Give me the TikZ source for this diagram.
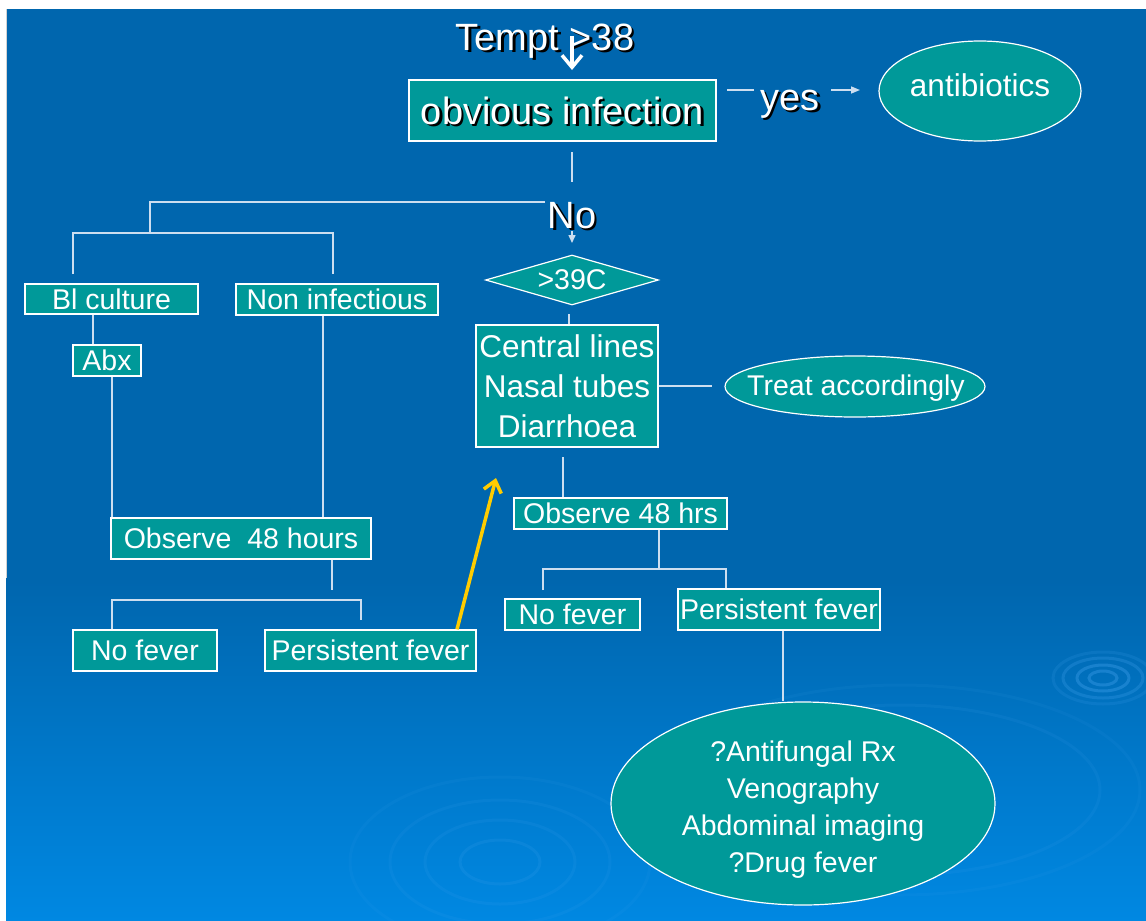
\documentclass[tikz,border=0pt]{standalone}
\usepackage{fontspec}
\setmainfont{Liberation Sans}
\usetikzlibrary{arrows.meta,shapes.geometric,calc}
\definecolor{bgtop}{RGB}{0,102,174}
\definecolor{bgbot}{RGB}{0,136,226}
\definecolor{tealbox}{RGB}{0,153,153}
\definecolor{lnc}{RGB}{205,222,240}
\definecolor{gold}{RGB}{255,204,0}
\definecolor{ripple}{RGB}{70,165,240}
\newcommand\shtext[1]{\rlap{\kern2.5pt\smash{\raisebox{-2.5pt}{\color{black}#1}}}#1}
\begin{document}
\begin{tikzpicture}[x=1pt,y=-1pt,
  box/.style={rectangle, draw=white, line width=1.3pt, fill=tealbox, text=white, inner sep=0pt},
  oval/.style={ellipse, draw=white, line width=1.2pt, fill=tealbox, text=white, inner sep=0pt},
  ln/.style={draw=lnc, line width=1.5pt},
  bigf/.style={font=\fontsize{38}{42}\selectfont},
  midf/.style={font=\fontsize{31.5}{40}\selectfont},
  smlf/.style={font=\fontsize{28.5}{37}\selectfont},
  rip/.style={draw=ripple, line width=3pt, opacity=0.35}]
\useasboundingbox (0,0) rectangle (1146,921);
% background
\fill[white] (0,0) rectangle (1146,921);
\fill[bgtop] (6,9) rectangle (1146,581);
\shade[top color=bgtop, bottom color=bgbot] (6,580) rectangle (1146,921);
\draw[gray!35, line width=1pt] (6,9) -- (6,578);
% ripples
\begin{scope}
\clip (6,9) rectangle (1146,921);
\draw[rip] (1103,678) ellipse [x radius=14, y radius=7];
\draw[rip] (1103,678) ellipse [x radius=26, y radius=13];
\draw[rip, opacity=0.25] (1103,678) ellipse [x radius=40, y radius=20];
\draw[rip, opacity=0.15] (1103,678) ellipse [x radius=50, y radius=26];
\draw[rip, opacity=0.15] (500,862) ellipse [x radius=40, y radius=22];
\draw[rip, opacity=0.12] (500,862) ellipse [x radius=75, y radius=42];
\draw[rip, opacity=0.10] (500,862) ellipse [x radius=110, y radius=62];
\draw[rip, opacity=0.08] (500,862) ellipse [x radius=150, y radius=85];
\draw[rip, opacity=0.10] (900,790) ellipse [x radius=200, y radius=85];
\draw[rip, opacity=0.08] (900,790) ellipse [x radius=240, y radius=105];
\end{scope}

% nodes
\node[bigf, text=white, anchor=base] (tempt) at (545,50) {\shtext{Tempt >38}};
\node[box, bigf, minimum width=307, minimum height=61] (obv) at (562.5,110.5) {\shtext{obvious infection}};
\node[bigf, text=white, anchor=base] (yes) at (790,110) {\shtext{yes}};
\node[oval, midf, minimum width=202, minimum height=100, text height=23, text depth=11.5] (abio) at (980,91) {antibiotics};
\node[bigf, text=white, anchor=base] (no) at (572,228) {\shtext{No}};

\node[box, smlf, minimum width=173, minimum height=30] (blc) at (111.5,299) {Bl culture};
\node[box, smlf, minimum width=202, minimum height=31] (noninf) at (337,299.5) {Non infectious};
\node[box, smlf, minimum width=68, minimum height=31] (abx) at (107,360.5) {Abx};
\node[box, smlf, minimum width=260, minimum height=41] (obs1) at (241,538.5) {Observe~~48 hours};
\node[box, smlf, minimum width=144, minimum height=41] (nf1) at (145,650.5) {No fever};
\node[box, smlf, minimum width=211, minimum height=41] (pf1) at (370.5,650.5) {Persistent fever};

\node[diamond, aspect=3.46, draw=white, line width=1.2pt, fill=tealbox, text=white, inner sep=0pt,
      minimum width=173, minimum height=50, smlf] (diam) at (572,280) {>39C};
\node[box, midf, align=center, minimum width=182, minimum height=122] (central) at (567,386) {Central lines\\Nasal tubes\\Diarrhoea};
\node[oval, minimum width=260, minimum height=61] (treat) at (855,386.5) {};
\node[smlf, text=white] (treatT) at (856,388) {Treat accordingly};
\node[box, smlf, minimum width=213, minimum height=31] (obs2) at (620.5,513.5) {Observe 48 hrs};
\node[box, smlf, minimum width=135, minimum height=31] (nf2) at (572.5,614.5) {No fever};
\node[box, smlf, minimum width=202, minimum height=41] (pf2) at (779,609.5) {Persistent fever};
\node[oval, minimum width=384, minimum height=203] (bigE) at (803,803.5) {};
\node[smlf, text=white, align=center] (bigT) at (803,810) {?Antifungal Rx\\Venography\\Abdominal imaging\\?Drug fever};

% free-end coordinates
\coordinate (tA) at (572,36);
\coordinate (tB) at (572,70);
\coordinate (o1) at (572,152);
\coordinate (o2) at (572,182);
\coordinate (y1) at (727,90);
\coordinate (y2) at (754,90);
\coordinate (y3) at (831,90);
\coordinate (y4) at (860,90);
\coordinate (n1) at (545,202);
\coordinate (n2) at (150,202);
\coordinate (n3) at (150,233);
\coordinate (n4) at (73,233);
\coordinate (n5) at (333,233);
\coordinate (n6) at (73,274);
\coordinate (n7) at (333,274);
\coordinate (a1) at (572,231);
\coordinate (a2) at (572,243);
\coordinate (m1) at (332,590);
\coordinate (m2) at (112,600);
\coordinate (m3) at (361,600);
\coordinate (m4) at (361,620);
\coordinate (d1) at (569,314);
\coordinate (t1) at (712,386);
\coordinate (c1) at (563,457);
\coordinate (r1) at (659,569);
\coordinate (r2) at (543,569);
\coordinate (r3) at (726,569);
\coordinate (r4) at (543,590);
\coordinate (yl) at (496,478);

% connectors
\draw[white, line width=3.5pt, -{Straight Barb[length=12pt,width=20pt,line width=3.5pt]}] (tA) -- (tB);
\draw[ln] (o1) -- (o2);
\draw[ln] (y1) -- (y2);
\draw[ln, -{Triangle[length=9pt,width=7pt]}] (y3) -- (y4);
\draw[ln] (n1) -- (n2) -- (n3);
\draw[ln] (n6) -- (n4) -- (n5) -- (n7);
\draw[ln, -{Triangle[length=8pt,width=7pt]}] (a1) -- (a2);
\draw[ln] (blc.south -| 93,0) -- (abx.north -| 93,0);
\draw[ln] (abx.south -| 112,0) -- (obs1.north -| 112,0);
\draw[ln] (noninf.south -| 323,0) -- (obs1.north -| 323,0);
\draw[ln] (obs1.south -| 332,0) -- (m1);
\draw[ln] (nf1.north -| m2) -- (m2) -- (m3) -- (m4);
\draw[ln] (d1) -- (central.north -| d1);
\draw[ln] (central.east) -- (t1);
\draw[ln] (c1) -- (obs2.north -| c1);
\draw[ln] (obs2.south -| r1) -- (r1);
\draw[ln] (r4) -- (r2) -- (r3) -- (pf2.north -| r3);
\draw[ln] (pf2.south -| 783,0) -- (bigE.north -| 783,0);
\draw[gold, line width=3.5pt, -{Straight Barb[length=11pt,width=18pt,line width=3.5pt]}] (pf1.north -| 457,0) -- (yl);
\end{tikzpicture}
\end{document}
